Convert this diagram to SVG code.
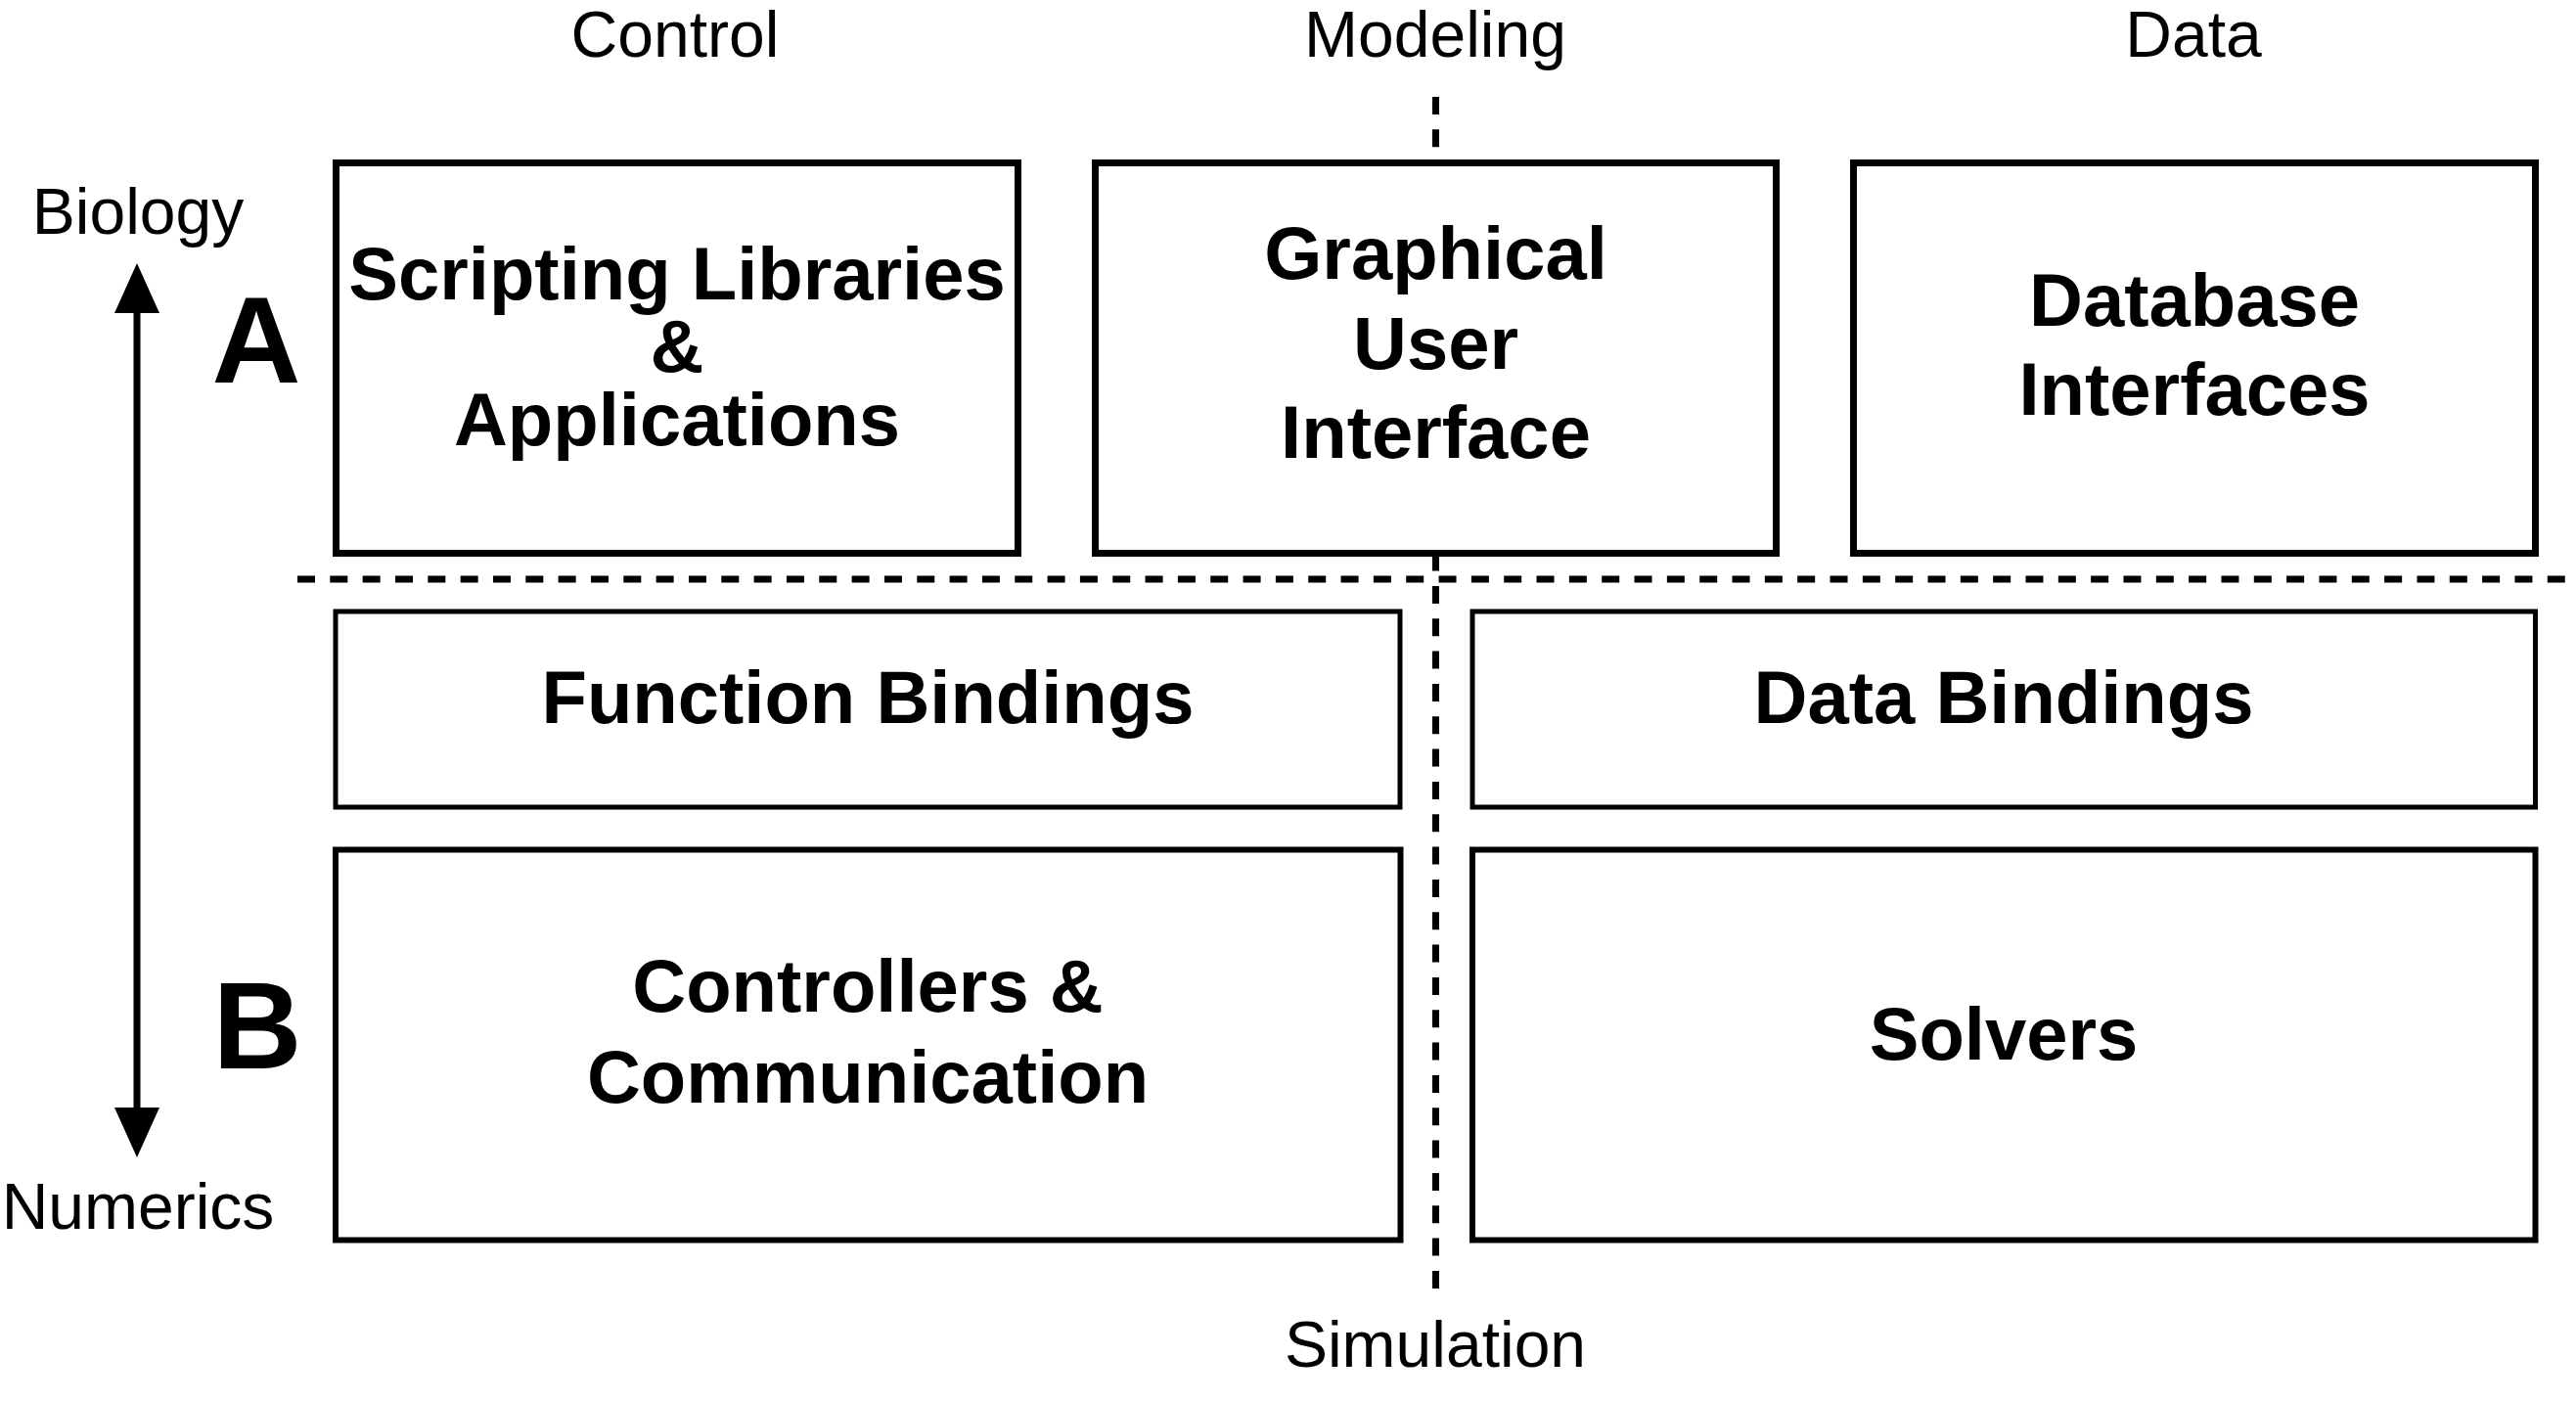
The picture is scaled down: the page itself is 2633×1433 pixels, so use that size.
<svg xmlns="http://www.w3.org/2000/svg" width="2633" height="1433" viewBox="0 0 2633 1433">
<style>
.lbl{font-family:"Liberation Sans",Arial,sans-serif;font-size:66px;fill:#000;text-anchor:middle}
.bt{font-family:"Liberation Sans",Arial,sans-serif;font-size:76px;font-weight:bold;fill:#000;text-anchor:middle}
.big{font-family:"Liberation Sans",Arial,sans-serif;font-size:126px;font-weight:bold;fill:#000;text-anchor:middle}
.thick{fill:#fff;stroke:#000;stroke-width:7}
.thin{fill:#fff;stroke:#000;stroke-width:5}
.mid{fill:#fff;stroke:#000;stroke-width:6}
.dash{fill:none;stroke:#000;stroke-width:7;stroke-dasharray:18 15.33}
</style>
<rect width="2633" height="1433" fill="#fff"/>
<g id="connectors">
<path class="dash" d="M1467.5 99 V1318"/>
<path class="dash" d="M304 592 H2623"/>
<line x1="140" y1="318" x2="140" y2="1134" stroke="#000" stroke-width="7"/>
<polygon points="140,269 117,320 163,320" fill="#000"/>
<polygon points="140,1183 117,1132 163,1132" fill="#000"/>
</g>
<g id="axis-labels">
<text class="lbl" x="690" y="58">Control</text>
<text class="lbl" x="1467" y="58">Modeling</text>
<text class="lbl" x="2242" y="58">Data</text>
<text class="lbl" x="141" y="239">Biology</text>
<text class="lbl" x="141" y="1256">Numerics</text>
<text class="lbl" x="1467" y="1397">Simulation</text>
<text class="big" x="262" y="391">A</text>
<text class="big" x="263" y="1092">B</text>
</g>
<g id="scripting">
<rect class="thick" x="343.5" y="166.5" width="697" height="399"/>
<text class="bt" x="692" y="306">Scripting Libraries</text>
<text class="bt" x="692" y="380">&amp;</text>
<text class="bt" x="692" y="455">Applications</text>
</g>
<g id="gui">
<rect class="thick" x="1119.5" y="166.5" width="696" height="399"/>
<text class="bt" x="1467.5" y="285">Graphical</text>
<text class="bt" x="1467.5" y="377">User</text>
<text class="bt" x="1467.5" y="468">Interface</text>
</g>
<g id="database">
<rect class="thick" x="1894.5" y="166.5" width="697" height="399"/>
<text class="bt" x="2243" y="333">Database</text>
<text class="bt" x="2243" y="424">Interfaces</text>
</g>
<g id="function-bindings">
<rect class="thin" x="343" y="625" width="1088" height="200"/>
<text class="bt" x="887" y="739">Function Bindings</text>
</g>
<g id="data-bindings">
<rect class="thin" x="1505" y="625" width="1086.5" height="200"/>
<text class="bt" x="2048" y="739">Data Bindings</text>
</g>
<g id="controllers">
<rect class="mid" x="343" y="868.5" width="1088.5" height="399"/>
<text class="bt" x="887" y="1034">Controllers &amp;</text>
<text class="bt" x="887" y="1127">Communication</text>
</g>
<g id="solvers">
<rect class="mid" x="1505" y="868.5" width="1086.5" height="399"/>
<text class="bt" x="2048" y="1083">Solvers</text>
</g>
</svg>
